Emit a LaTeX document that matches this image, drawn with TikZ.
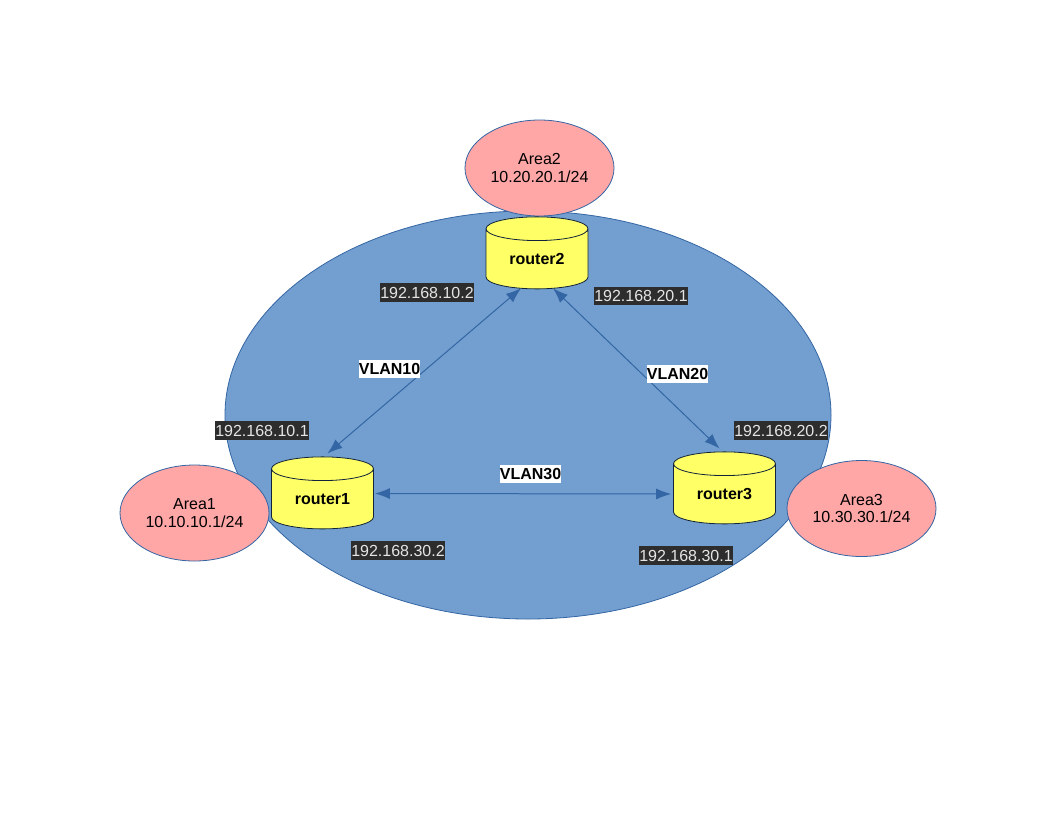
\documentclass[tikz,border=0pt]{standalone}
\usepackage{fontspec}
\setmainfont{Liberation Sans}
\usepackage{xcolor}
\usetikzlibrary{arrows.meta,shapes.geometric}
\definecolor{netblue}{HTML}{729FCF}
\definecolor{lineblue}{HTML}{3465A4}
\definecolor{areapink}{HTML}{FFA6A6}
\definecolor{routeryellow}{HTML}{FFFF66}
\definecolor{ipdark}{HTML}{2D2D2D}
\tikzset{
  area/.style={ellipse,draw=lineblue,fill=areapink,line width=0.8pt,minimum width=149pt,minimum height=96pt,inner sep=0pt,align=center,font=\fontsize{16}{17.5}\selectfont},
  router/.style={cylinder,shape border rotate=90,aspect=0.43,draw=black!65!lineblue,line width=0.8pt,cylinder uses custom fill,cylinder body fill=routeryellow,cylinder end fill=routeryellow,minimum width=102pt,minimum height=72pt,inner sep=0pt,font=\fontsize{16}{18}\selectfont\bfseries},
  ipaddr/.style={fill=ipdark,text=white!90!black,inner sep=0pt,minimum width=94pt,minimum height=18.5pt,font=\fontsize{16}{18}\selectfont},
  vlan/.style={fill=white,inner sep=0pt,minimum width=61pt,minimum height=18pt,font=\fontsize{16}{18}\selectfont\bfseries},
  link/.style={draw=lineblue,line width=1pt,{Latex[length=15pt,width=11pt]}-{Latex[length=15pt,width=11pt]}}
}
\begin{document}
\begin{tikzpicture}[x=1pt,y=-1pt]
  \useasboundingbox (0,0) rectangle (1056,816);
  \node[ellipse,draw=lineblue,fill=netblue,line width=0.8pt,minimum width=606pt,minimum height=408pt] (net) at (528,415) {};

  \node[area] (area1) at (194.5,513) {Area1\\10.10.10.1/24};
  \node[area] (area2) at (539.5,168) {Area2\\10.20.20.1/24};
  \node[area] (area3) at (861.5,508.5) {Area3\\10.30.30.1/24};

  \node[router] (router1) at (322.5,499) {router1};
  \node[router] (router2) at (537,259) {router2};
  \node[router] (router3) at (724.5,494) {router3};

  \draw[link] ([xshift=5pt,yshift=3pt]router1.north) -- ([xshift=-16pt,yshift=1pt]router2.south);
  \draw[link] ([xshift=16pt,yshift=1pt]router2.south) -- ([xshift=-5pt,yshift=3pt]router3.north);
  \draw[link] ([xshift=1pt,yshift=5.5pt]router1.east) -- ([xshift=-2pt]router3.west);

  \node[ipaddr] (ip101) at (262,430.5) {192.168.10.1};
  \node[ipaddr] (ip102) at (427,292.5) {192.168.10.2};
  \node[ipaddr] (ip201) at (641,296) {192.168.20.1};
  \node[ipaddr] (ip202) at (781,430.5) {192.168.20.2};
  \node[ipaddr] (ip301) at (686,555.5) {192.168.30.1};
  \node[ipaddr] (ip302) at (398,550.5) {192.168.30.2};

  \node[vlan] (vlan10) at (389.5,368.5) {VLAN10};
  \node[vlan] (vlan20) at (677.5,373.5) {VLAN20};
  \node[vlan] (vlan30) at (530.5,473.5) {VLAN30};
\end{tikzpicture}
\end{document}
